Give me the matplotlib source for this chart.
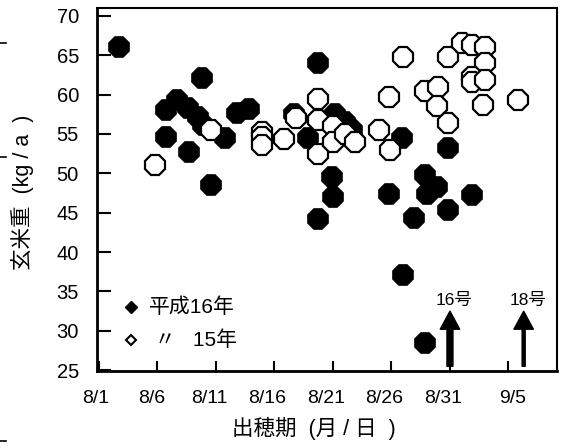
import matplotlib
matplotlib.use("Agg")
import matplotlib.pyplot as plt
from matplotlib.lines import Line2D
from matplotlib.transforms import ScaledTranslation

plt.rcParams['font.family'] = ['Liberation Sans', 'Noto Sans CJK JP', 'DejaVu Sans']

# ---- data (x = day counted from Aug 1 = 1) ----
h16_day = [2.7, 6.7, 6.7, 7.7, 8.6, 9.5, 9.9, 8.7, 9.8, 10.6, 11.8, 12.8, 13.8,
           17.7, 18.9, 19.7, 19.7, 21.2, 22.0, 22.6, 20.9, 21.0, 25.8, 26.9,
           27.0, 27.95, 28.9, 29.0, 29.9, 28.9, 30.85, 30.85, 32.85]
h16_val = [66.1, 58.0, 54.6, 59.3, 58.3, 57.2, 56.1, 52.7, 62.1, 48.5, 54.5, 57.7, 58.2,
           57.5, 54.5, 64.0, 44.2, 57.6, 56.5, 55.5, 49.6, 47.0, 47.4, 54.5,
           37.1, 44.3, 49.8, 47.4, 48.3, 28.4, 53.2, 45.3, 47.2]

h15_day = [5.8, 10.6, 14.9, 14.9, 14.9, 16.8, 17.8, 19.7, 19.7, 19.7, 21.0, 21.0,
           22.0, 22.9, 24.9, 25.9, 25.8, 27.0, 28.9, 30.0, 29.9, 30.85, 30.85,
           32.0, 32.85, 34.0, 34.0, 32.85, 32.85, 34.0, 33.85, 36.85]
h15_val = [51.05, 55.5, 55.2, 54.6, 53.6, 54.4, 57.0, 59.5, 56.8, 52.5, 56.0, 54.0,
           55.0, 54.0, 55.5, 53.0, 59.7, 64.8, 60.4, 61.0, 58.5, 56.4, 64.8,
           66.5, 66.3, 66.0, 64.0, 62.3, 61.6, 61.9, 58.7, 59.3]

tick_days = [1, 6, 11, 16, 21, 26, 31, 36]
tick_labels = ['8/1', '8/6', '8/11', '8/16', '8/21', '8/26', '8/31', '9/5']
label_shift_px = [-3, -5.5, -7, -7.5, -7, -7.5, -7, 4.5]

typhoon_day = [31.0, 37.3]
typhoon_names = ['16号', '18号']
typhoon_shaft = [4.3, 2.2]

legend_labels = ['平成16年', ' 〃   15年']

# ---- figure ----
fig = plt.figure(figsize=(5.61, 4.48), dpi=100)
ax = fig.add_axes([97/561, 1-371/448, 460/561, 363/448])

ms = 15.5
ax.plot(h16_day, h16_val, linestyle='none', marker='8', ms=ms,
        mfc='black', mec='black', mew=1.2, zorder=3)
ax.plot(h15_day, h15_val, linestyle='none', marker='8', ms=ms,
        mfc='white', mec='black', mew=1.6, zorder=4)

ax.set_xlim(0.83, 40.15)
ax.set_ylim(24.9, 71.0)

ax.set_yticks(range(25, 71, 5))
ax.tick_params(axis='y', direction='in', length=10, width=1.5, pad=13,
               labelsize=14.5)
ax.set_xticks(tick_days)
ax.set_xticklabels(tick_labels)
ax.tick_params(axis='x', direction='in', length=7, width=1.5, pad=14,
               labelsize=14)
for lab, dx in zip(ax.get_xticklabels(), label_shift_px):
    lab.set_transform(lab.get_transform() + ScaledTranslation(dx/100, 0, fig.dpi_scale_trans))

for side in ['left', 'bottom']:
    ax.spines[side].set_linewidth(2.0)
for side in ['top', 'right']:
    ax.spines[side].set_linewidth(1.5)

# typhoon arrows
for d, name, w in zip(typhoon_day, typhoon_names, typhoon_shaft):
    ax.annotate('', xy=(d, 32.5), xytext=(d, 25.5),
                arrowprops=dict(facecolor='black', edgecolor='black',
                                width=w, headwidth=14, headlength=13, shrink=0),
                zorder=5)
    ax.text(d + 0.35, 33.9, name, ha='center', va='center', fontsize=12.5,
            zorder=6)

# legend (manual)
ax.plot([0.0739], [0.1763], transform=ax.transAxes, marker='D', ms=6,
        mfc='black', mec='black', linestyle='none', clip_on=False)
ax.plot([0.0739], [0.0854], transform=ax.transAxes, marker='D', ms=5,
        mfc='white', mec='black', mew=1.5, linestyle='none', clip_on=False)
ax.text(0.113, 0.1763, legend_labels[0], transform=ax.transAxes,
        ha='left', va='center', fontsize=15)
ax.text(0.113, 0.0854, legend_labels[1], transform=ax.transAxes,
        ha='left', va='center', fontsize=15)

# axis titles
fig.text(22/561, 1-192/448, '玄米重  (kg / a  )', rotation=90, ha='center',
         va='center', fontsize=15.5)
fig.text(314/561, 1-428/448, '出穂期  (月 / 日  )', ha='center', va='center',
         fontsize=15.5)

# frame fragments at left edge
for yy in [43, 157, 441]:
    fig.add_artist(Line2D([0, 6/561], [1-yy/448, 1-yy/448], color='black', lw=1.2))

fig.savefig('out.png', dpi=100)
